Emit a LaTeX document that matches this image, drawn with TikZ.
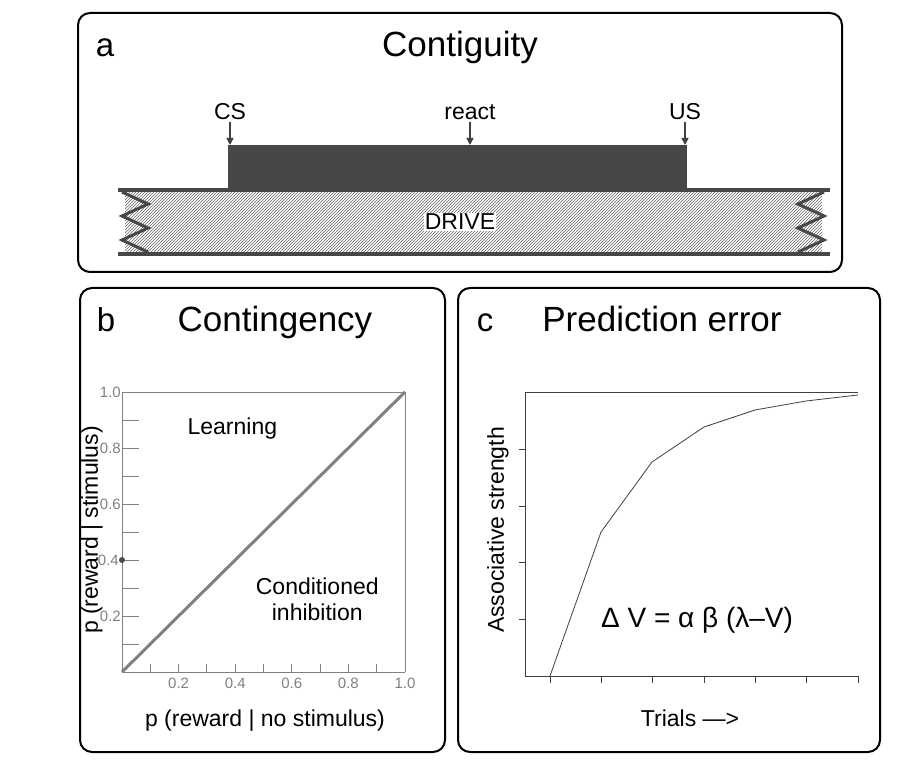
\documentclass[tikz,border=0pt]{standalone}
\usepackage{fontspec}
\setmainfont{Liberation Sans}
\usetikzlibrary{patterns,arrows.meta}
\tikzset{
	panel/.style={draw, line width=2pt, rounded corners=12pt},
	title/.style={font=\fontsize{35}{40}\selectfont, anchor=base},
	letter/.style={font=\fontsize{33}{40}\selectfont, anchor=base},
	lbl/.style={font=\fontsize{23}{26}\selectfont},
	tick/.style={font=\fontsize{15}{17}\selectfont, text=gray},
	pointer/.style={-{Triangle[length=7pt,width=7pt]}, draw=black!75, line width=1.5pt}
}
\begin{document}
\begin{tikzpicture}[x=1pt, y=-1pt]
	\useasboundingbox (0,0) rectangle (914,778);
	%panel a
	\draw[panel] (78,13) rectangle (842,272);
	\node[letter] (la) at (105,57) {a};
	\node[title] (ta) at (460,57) {Contiguity};
	\fill[black!72] (228,145) rectangle (687,190);
	\fill[pattern=north east lines, pattern color=black!60] (125,190) rectangle (822,254);
	\draw[line width=4pt, black!72] (118,190) -- (830,190);
	\draw[line width=4pt, black!72] (118,254) -- (830,254);
	\draw[line width=3pt, black!72] (122,192) -- (148,204) -- (122,216) -- (148,228) -- (122,240) -- (148,252);
	\draw[line width=3pt, black!72] (824,192) -- (798,204) -- (824,216) -- (798,228) -- (824,240) -- (798,252);
	\node[lbl, fill=white, inner sep=1pt] (drive) at (460,222) {DRIVE};
	\foreach \x/\name/\t in {230/cs/CS, 470/react/react, 685/us/US}{
		\node[lbl, inner sep=2pt] (\name) at (\x,112) {\t};
		\coordinate (\name t) at (\x,145);
		\draw[pointer] (\name) -- (\name t);
	}
	%panel b
	\draw[panel] (80,288) rectangle (445,752);
	\node[letter] (lb) at (106,332) {b};
	\node[title] (tb) at (275,332) {Contingency};
	\begin{scope}[shift={(122,672)}, x=283pt, y=280pt]
		\draw[gray, line width=0.8pt] (0,1) -- (0,0) -- (1,0);
		\draw[gray, line width=0.8pt] (0,1) -- (1,1) -- (1,0);
		%ticks
		\foreach \v in {0.1,0.2,...,0.95}
			\draw[gray, line width=0.8pt] (\v,0) -- +(0,0.03);
		\foreach \v in {0.1,0.2,...,0.95}
			\draw[gray, line width=0.8pt] (0,\v) -- +(0.06,0);
		\foreach \v in {0.2,0.4,0.6,0.8,1.0}
			\node[tick, anchor=north] at (\v,-0.01) {\v};
		\foreach \v in {0.2,0.6,0.8,1.0}
			\node[tick, anchor=east, inner sep=1pt] at (0,\v) {\v};
		\node[tick, anchor=east, inner sep=3pt] at (0,0.4) {0.4};
		\fill[black!70] (0,0.4) circle (3pt);
		\coordinate (o) at (0,0);
		\coordinate (e) at (1,1);
		\draw[gray, line width=3pt] (o) -- (e);
		\node[lbl] (learn) at (0.39,0.87) {Learning};
		\node[lbl, align=center] (inhib) at (0.69,0.26) {Conditioned\\inhibition};
	\end{scope}
	\node[lbl] (xb) at (265,721) {p (reward | no stimulus)};
	\node[lbl, rotate=90] (yb) at (92,530) {p (reward | stimulus)};
	%panel c
	\draw[panel] (458,288) rectangle (880,752);
	\node[letter] (lc) at (485,332) {c};
	\node[title] (tc) at (662,332) {Prediction error};
	\draw[black!75, line width=1pt] (858,392) -- (525,392) -- (525,676) -- (858,676);
	\foreach \x in {550,601,652,704,755,806,858}
		\draw[black!75] (\x,676) -- (\x,683);
	\foreach \y in {449,506,562,619}
		\draw[black!75] (525,\y) -- (519,\y);
	\draw[black!75, line width=0.8pt] plot coordinates{(550,676) (601,532) (652,462) (704,427) (755,410) (806,401) (858,395)};
	\node[font=\fontsize{28}{32}\selectfont] (eq) at (697,620) {Δ V = α β (λ–V)};
	\node[lbl] (xc) at (690,718) {Trials --->};
	\node[lbl, rotate=90] (yc) at (498,530) {Associative strength};
\end{tikzpicture}
\end{document}
